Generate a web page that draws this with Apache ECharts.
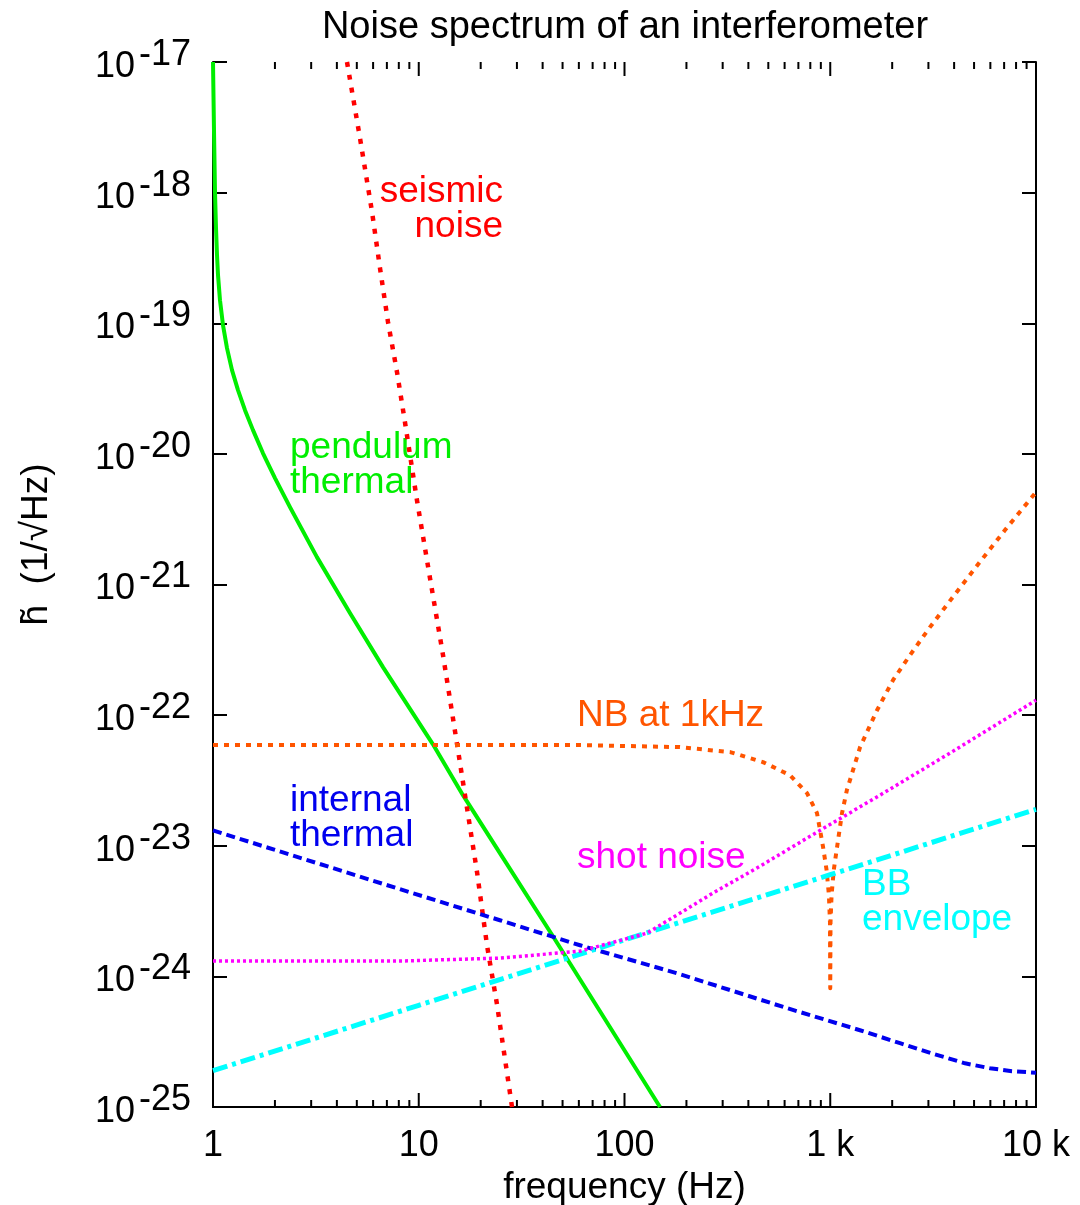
<!DOCTYPE html>
<html><head><meta charset="utf-8">
<script src="https://cdn.jsdelivr.net/npm/echarts@6/dist/echarts.min.js"></script>
<style>html,body{margin:0;padding:0;background:#fff}#c{width:1080px;height:1205px}</style>
</head><body><div id="c"></div>
<script>
const FONT = '"Liberation Sans", Arial, Helvetica, sans-serif';

// ---- axis ticks ----
const xMajorTicks = [1, 10, 100, 1000, 10000];
const xTickLabels = ['1', '10', '100', '1 k', '10 k'];
const xMinorTicks = [2,3,4,5,6,7,8,9, 20,30,40,50,60,70,80,90, 200,300,400,500,600,700,800,900, 2000,3000,4000,5000,6000,7000,8000,9000];
const yMajorTicks = [1e-25, 1e-24, 1e-23, 1e-22, 1e-21, 1e-20, 1e-19, 1e-18, 1e-17];
const yTickExponents = ['-25', '-24', '-23', '-22', '-21', '-20', '-19', '-18', '-17'];

// ---- series data (frequency in Hz, strain in 1/sqrt(Hz)) ----
const pendFreq = [1.0, 1.0112, 1.0226, 1.0342, 1.0458, 1.0576, 1.0814, 1.1183, 1.1696, 1.2369, 1.3228, 1.4307, 1.5646, 1.750, 2.0012, 2.3666, 3.20, 4.63, 6.70, 11.7, 16.4, 24.8, 44.9, 148.8];
const pendH    = [1.0e-17, 3.01e-18, 1.01e-18, 5.36e-19, 3.33e-19, 2.34e-19, 1.50e-19, 9.69e-20, 6.45e-20, 4.38e-20, 3.08e-20, 2.16e-20, 1.52e-20, 1.01e-20, 6.53e-21, 3.91e-21, 1.62e-21, 6.04e-22, 2.33e-22, 6.0e-23, 2.44e-23, 8.77e-24, 2.03e-24, 1.0e-25];

const seisFreq = [4.48, 5.18, 5.93, 6.48, 7.09, 7.84, 8.57, 9.80, 11.34, 13.12, 15.35, 19.2, 21.5, 24.0, 28.4];
const seisH    = [1e-17, 2.62e-18, 7.10e-19, 2.65e-19, 1.02e-19, 4.23e-20, 1.75e-20, 4.43e-21, 1.12e-21, 2.88e-22, 6.0e-23, 6.28e-24, 1.70e-24, 6.12e-25, 1e-25];

const nbFreq = [1, 60.8, 186, 326, 471, 637, 771, 862, 923, 960, 985, 997, 1000, 1003, 1015, 1040, 1079, 1141, 1205, 1290, 1396, 1688, 2018, 2441, 3054, 4040, 5343, 7069, 10000];
const nbH    = [5.9e-23, 5.9e-23, 5.69e-23, 5.21e-23, 4.37e-23, 3.47e-23, 2.53e-23, 1.78e-23, 9.75e-24, 6.5e-24, 4.2e-24, 2.6e-24, 8.1e-25, 2.6e-24, 4.2e-24, 6.5e-24, 9.75e-24, 1.78e-23, 2.67e-23, 3.79e-23, 5.69e-23, 1.09e-22, 1.85e-22, 2.88e-22, 4.72e-22, 8.43e-22, 1.49e-21, 2.61e-21, 5.09e-21];

const intFreq = [1, 8.39, 24.8, 60.8, 186, 617, 1395, 2183, 3228, 4519, 5974, 7641, 10000];
const intH    = [1.31e-23, 4.57e-24, 2.69e-24, 1.73e-24, 1.04e-24, 5.71e-25, 3.87e-25, 3.08e-25, 2.53e-25, 2.16e-25, 1.98e-25, 1.88e-25, 1.83e-25];

const shotFreq = [1, 8.1, 24.8, 60.8, 128.6, 269, 456, 891, 1745, 3818, 10000];
const shotH    = [1.31e-24, 1.31e-24, 1.38e-24, 1.56e-24, 2.14e-24, 4.34e-24, 6.98e-24, 1.31e-23, 2.44e-23, 5.12e-23, 1.30e-22];

const bbFreq = [1, 10, 100, 1000, 10000];
const bbH    = [1.9e-25, 6.0e-25, 1.9e-24, 6.0e-24, 1.9e-23];

function pairs(xs, ys) { return xs.map((x, i) => [x, ys[i]]); }

const axisLine = { show: true, lineStyle: { color: '#000', width: 2 } };
function xAxis(pos, withLabels) {
  const a = {
    type: 'log', logBase: 10, min: 1, max: 10000, position: pos, gridIndex: 0,
    axisLine: axisLine,
    axisTick: { show: false },
    axisLabel: { show: false },
    splitLine: { show: false }, minorTick: { show: false }
  };
  if (withLabels) {
    a.axisLabel = {
      show: true, customValues: xMajorTicks, margin: 21,
      formatter: v => xTickLabels[Math.round(Math.log10(v))],
      fontSize: 36, color: '#000', fontFamily: FONT
    };
    a.name = 'frequency (Hz)';
    a.nameLocation = 'middle';
    a.nameGap = 60;
    a.nameTextStyle = { fontSize: 37, color: '#000', fontFamily: FONT };
  }
  return a;
}
function yAxis(pos, withLabels) {
  const a = {
    type: 'log', logBase: 10, min: 1e-25, max: 1e-17, position: pos, gridIndex: 0,
    axisLine: axisLine,
    axisTick: { show: true, inside: true, length: 14, customValues: yMajorTicks, lineStyle: { color: '#000', width: 2 } },
    axisLabel: { show: false },
    splitLine: { show: false }, minorTick: { show: false }
  };
  if (withLabels) {
    a.axisLabel = {
      show: true, customValues: yMajorTicks, margin: 22, padding: [10, 0, 0, 0],
      formatter: v => '{b|10}{e|' + yTickExponents[Math.round(Math.log10(v)) + 25] + '}',
      rich: {
        b: { fontSize: 36, color: '#000', fontFamily: FONT },
        e: { fontSize: 36, color: '#000', fontFamily: FONT, padding: [0, 0, 24, 4] }
      }
    };
    a.name = 'h\u0303  (1/\u221AHz)';
    a.nameLocation = 'middle';
    a.nameGap = 158;
    a.nameTextStyle = { fontSize: 37, color: '#000', fontFamily: FONT, padding: [0, 0, 0, 80] };
  }
  return a;
}

function line(name, xs, ys, color, width, dash) {
  return {
    name: name, type: 'line', xAxisIndex: 0, yAxisIndex: 0,
    data: pairs(xs, ys), showSymbol: false, symbol: 'none',
    smooth: false, clip: true,
    lineStyle: { color: color, width: width, type: dash, cap: 'butt', join: 'round' },
    emphasis: { disabled: true }, animation: false, z: 2
  };
}

function label(text, x, y, color, align) {
  return {
    type: 'text', x: x, y: y, silent: true,
    style: { text: text, fill: color, font: '37px ' + FONT, textAlign: align, textVerticalAlign: 'middle', lineHeight: 35 }
  };
}

// x-axis tick marks (bottom and top, pointing inward), positioned through the axis scale
const xTickSeries = {
  type: 'custom', coordinateSystem: 'cartesian2d', xAxisIndex: 0, yAxisIndex: 0,
  data: xMinorTicks.concat(xMajorTicks.slice(1, -1)).map(v => [v]),
  silent: true, clip: false, z: 5, animation: false,
  renderItem: function (params, api) {
    const v = api.value(0);
    const lg = Math.log10(v);
    const len = Math.abs(lg - Math.round(lg)) < 1e-6 ? 14 : 7;
    const b = api.coord([v, 1e-25]);
    const t = api.coord([v, 1e-17]);
    const st = { stroke: '#000', lineWidth: 2 };
    return {
      type: 'group', children: [
        { type: 'line', shape: { x1: b[0], y1: b[1], x2: b[0], y2: b[1] - len }, style: st },
        { type: 'line', shape: { x1: t[0], y1: t[1], x2: t[0], y2: t[1] + len }, style: st }
      ]
    };
  }
};

const chart = echarts.init(document.getElementById('c'), null, { renderer: 'canvas' });
chart.setOption({
  backgroundColor: '#fff',
  animation: false,
  title: {
    text: 'Noise spectrum of an interferometer', left: 620, top: 4, textAlign: 'center',
    textStyle: { fontSize: 38, fontWeight: 'normal', color: '#000', fontFamily: FONT }
  },
  grid: { left: 213, right: 44, top: 62, bottom: 98, containLabel: false, outerBoundsMode: 'none' },
  xAxis: [xAxis('bottom', true), xAxis('top', false)],
  yAxis: [yAxis('left', true), yAxis('right', false)],
  series: [
    line('pendulum thermal', pendFreq, pendH, '#00ee00', 4, 'solid'),
    line('seismic noise', seisFreq, seisH, '#ff0000', 4.5, [5, 8]),
    line('NB at 1kHz', nbFreq, nbH, '#ff5500', 4, [5, 6]),
    line('internal thermal', intFreq, intH, '#0000ee', 4, [9, 5]),
    line('BB envelope', bbFreq, bbH, '#00ffff', 5, [15, 5, 4, 5]),
    line('shot noise', shotFreq, shotH, '#ff00ff', 3.5, [3, 3]),
    xTickSeries
  ],
  graphic: [
    label('seismic\nnoise', 503, 209, '#ff0000', 'right'),
    label('pendulum\nthermal', 290, 465, '#00ee00', 'left'),
    label('NB at 1kHz', 577, 716, '#ff5500', 'left'),
    label('internal\nthermal', 290, 818, '#0000ee', 'left'),
    label('shot noise', 577, 858, '#ff00ff', 'left'),
    label('BB\nenvelope', 862, 902, '#00ffff', 'left')
  ]
});
</script></body></html>
